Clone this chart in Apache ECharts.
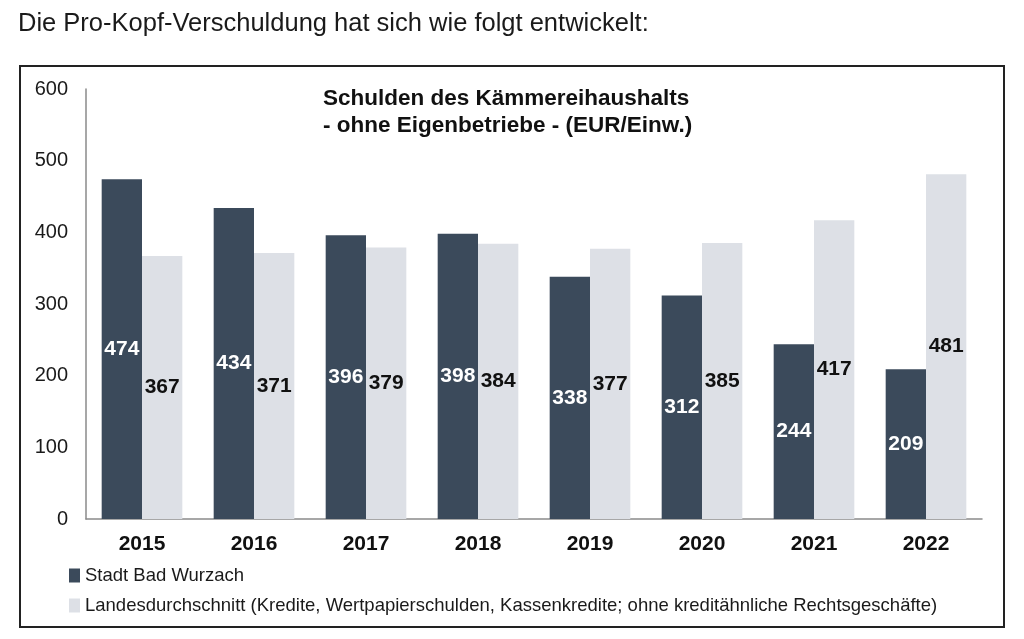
<!DOCTYPE html>
<html><head><meta charset="utf-8">
<script src="https://cdn.jsdelivr.net/npm/echarts@6/dist/echarts.min.js"></script>
<style>html,body{margin:0;padding:0;background:#fff}#c{width:1024px;height:639px}</style>
</head><body><div id="c"></div>
<script>
const categories = ['2015','2016','2017','2018','2019','2020','2021','2022'];
const stadtValues = [474, 434, 396, 398, 338, 312, 244, 209];
const landValues = [367, 371, 379, 384, 377, 385, 417, 481];
const yTicks = [0, 100, 200, 300, 400, 500, 600];
const seriesNames = ['Stadt Bad Wurzach', 'Landesdurchschnitt (Kredite, Wertpapierschulden, Kassenkredite; ohne kreditähnliche Rechtsgeschäfte)'];
const F = '"Liberation Sans", Arial, sans-serif';
const chart = echarts.init(document.getElementById('c'));
chart.setOption({
  animation: false,
  textStyle: {fontFamily: F},
  title: [
    {text: 'Die Pro-Kopf-Verschuldung hat sich wie folgt entwickelt:', left: 18, top: 11, padding: 0,
     textStyle: {fontFamily: F, fontSize: 25.5, fontWeight: 'normal', color: '#1a1a1a'}},
    {text: 'Schulden des Kämmereihaushalts\n- ohne Eigenbetriebe - (EUR/Einw.)', left: 323, top: 85, padding: 0,
     textStyle: {fontFamily: F, fontSize: 22.5, fontWeight: 'bold', color: '#111', lineHeight: 27}}
  ],
  graphic: [{type: 'rect', shape: {x: 20, y: 66, width: 984, height: 561},
    style: {fill: 'none', stroke: '#222', lineWidth: 2}, silent: true}],
  legend: {orient: 'vertical', left: 69, top: 566, itemWidth: 11, itemHeight: 14, itemGap: 11,
    padding: 0, icon: 'rect', textStyle: {fontFamily: F, fontSize: 18.5, color: '#1a1a1a'}, data: seriesNames},
  grid: {left: 86, right: 42, top: 89, bottom: 120, containLabel: false},
  xAxis: {type: 'category', data: categories,
    axisLine: {show: true, lineStyle: {color: '#8a8a8a', width: 1.5}}, axisTick: {show: false},
    axisLabel: {fontFamily: F, fontSize: 21, fontWeight: 'bold', color: '#111', margin: 15}},
  yAxis: {type: 'value', min: yTicks[0], max: yTicks[yTicks.length-1], interval: 100,
    axisLine: {show: true, lineStyle: {color: '#8a8a8a', width: 1.5}}, axisTick: {show: false},
    splitLine: {show: false},
    axisLabel: {fontFamily: F, fontSize: 20, color: '#1a1a1a', margin: 18}},
  series: [
    {name: seriesNames[0], type: 'bar', data: stadtValues, barGap: '0%', barCategoryGap: '28%',
     itemStyle: {color: '#3b4a5b'},
     label: {show: true, position: 'inside', color: '#fff', fontFamily: F, fontSize: 21, fontWeight: 'bold'}},
    {name: seriesNames[1], type: 'bar', data: landValues, barGap: '0%', barCategoryGap: '28%',
     itemStyle: {color: '#dde0e6'},
     label: {show: true, position: 'inside', color: '#111', fontFamily: F, fontSize: 21, fontWeight: 'bold'}}
  ]
});
</script></body></html>
